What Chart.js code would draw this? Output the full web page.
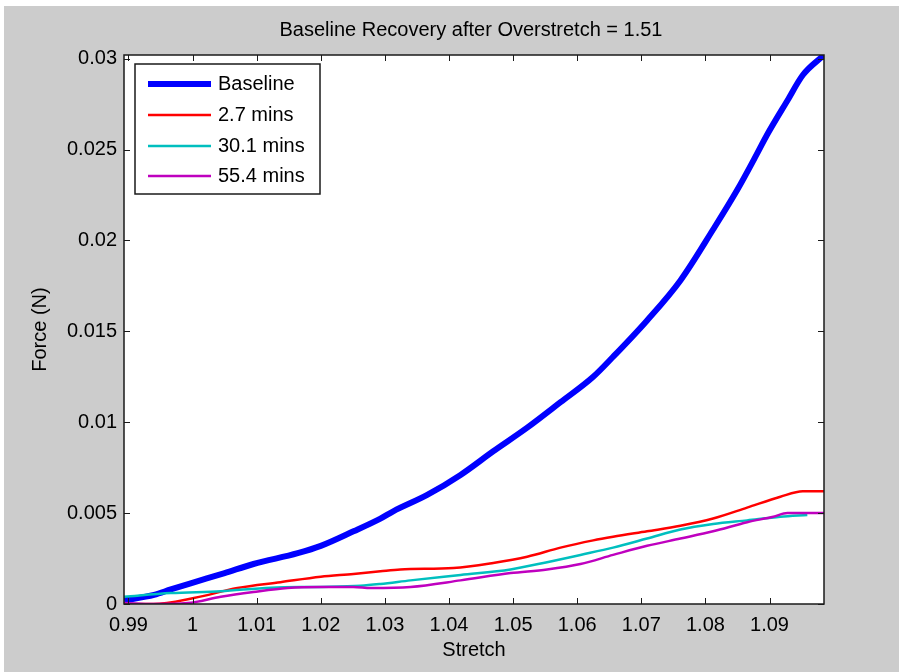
<!DOCTYPE html>
<html>
<head>
<meta charset="utf-8">
<script src="https://cdn.jsdelivr.net/npm/chart.js@4.4.1/dist/chart.umd.min.js"></script>
<style>
  html, body { margin: 0; padding: 0; background: #ffffff; }
  #wrap { position: relative; width: 899px; height: 672px; }
  canvas { display: block; }
</style>
</head>
<body>
<div id="wrap"><canvas id="c" width="899" height="672"></canvas></div>
<script>
// Stretch / force samples for each recovery curve
const baselineStretch = [0.9893, 0.9940, 0.9966, 0.9997, 1.0050, 1.0095, 1.0164, 1.0200, 1.0251, 1.0293, 1.0313, 1.0366, 1.0418, 1.0469, 1.0522, 1.0574, 1.0625, 1.0656, 1.0709, 1.0761, 1.0812, 1.0850, 1.0881, 1.0896, 1.0928, 1.0952, 1.0985];
const baselineForce   = [0.0002, 0.0005, 0.0008, 0.00114, 0.0017, 0.0022, 0.0028, 0.0032, 0.0040, 0.0047, 0.0051, 0.0060, 0.0071, 0.0084, 0.0097, 0.0111, 0.0125, 0.0136, 0.0156, 0.0178, 0.0206, 0.0228, 0.0248, 0.0258, 0.0277, 0.0291, 0.0302];

const min27Stretch = [0.9893, 0.9939, 1.0002, 1.0070, 1.0137, 1.0200, 1.0251, 1.0293, 1.0324, 1.0407, 1.0469, 1.0522, 1.0574, 1.0625, 1.0656, 1.0709, 1.0761, 1.0812, 1.0865, 1.0917, 1.0952, 1.0985];
const min27Force   = [0.0000, 0.0000, 0.00033, 0.00088, 0.0012, 0.0015, 0.00165, 0.0018, 0.0019, 0.00198, 0.00226, 0.0026, 0.0031, 0.0035, 0.0037, 0.0040, 0.0043, 0.0047, 0.0053, 0.0059, 0.0062, 0.0062];

const min301Stretch = [0.9893, 0.9966, 1.0044, 1.0122, 1.0200, 1.0262, 1.0293, 1.0340, 1.0418, 1.0496, 1.0553, 1.0605, 1.0656, 1.0709, 1.0761, 1.0812, 1.0865, 1.0917, 1.0959];
const min301Force   = [0.0004, 0.0006, 0.0007, 0.0009, 0.00094, 0.0010, 0.0011, 0.0013, 0.0016, 0.0019, 0.0023, 0.0027, 0.0031, 0.0036, 0.0041, 0.0044, 0.0046, 0.0048, 0.0049];

const min554Stretch = [0.9893, 0.9939, 0.9992, 1.0044, 1.0095, 1.0148, 1.0200, 1.0251, 1.0278, 1.0340, 1.0418, 1.0496, 1.0553, 1.0605, 1.0656, 1.0709, 1.0761, 1.0812, 1.0865, 1.0906, 1.0928, 1.0985];
const min554Force   = [0.00005, 0.0000, 0.00005, 0.0004, 0.00066, 0.00088, 0.00094, 0.00094, 0.00088, 0.00094, 0.0013, 0.0017, 0.0019, 0.0022, 0.0027, 0.0032, 0.0036, 0.0040, 0.0045, 0.0048, 0.0050, 0.0050];

const seriesNames = ['Baseline', '2.7 mins', '30.1 mins', '55.4 mins'];

const xTicks = [0.99, 1.00, 1.01, 1.02, 1.03, 1.04, 1.05, 1.06, 1.07, 1.08, 1.09];
const xTickLabels = ['0.99', '1', '1.01', '1.02', '1.03', '1.04', '1.05', '1.06', '1.07', '1.08', '1.09'];
const yTicks = [0, 0.005, 0.01, 0.015, 0.02, 0.025, 0.03];
const yTickLabels = ['0', '0.005', '0.01', '0.015', '0.02', '0.025', '0.03'];

const chartTitle = 'Baseline Recovery after Overstretch = 1.51';
const xTitle = 'Stretch';
const yTitle = 'Force (N)';

const FONT = "'Liberation Sans', Arial, sans-serif";
const FS = 20;

function pts(xs, ys) { return xs.map((x, i) => ({ x: x, y: ys[i] })); }

const colors = ['#0000ff', '#ff0000', '#00bfbf', '#bf00bf'];
const widths = [6, 2.5, 2.5, 2.5];

// Figure background, axes box, inward ticks, labels and legend
const figurePlugin = {
  id: 'figure',
  beforeDraw(chart) {
    const ctx = chart.ctx;
    const a = chart.chartArea;
    ctx.save();
    ctx.fillStyle = '#ffffff';
    ctx.fillRect(0, 0, chart.width, chart.height);
    ctx.fillStyle = '#cccccc';
    ctx.fillRect(4, 6, chart.width - 4, chart.height - 6);
    ctx.fillStyle = '#ffffff';
    ctx.fillRect(a.left, a.top, a.right - a.left, a.bottom - a.top);
    ctx.restore();
  },
  afterDraw(chart) {
    const ctx = chart.ctx;
    const a = chart.chartArea;
    const xs = chart.scales.x, ys = chart.scales.y;
    ctx.save();
    ctx.strokeStyle = '#1a1a1a';
    ctx.lineWidth = 1;
    ctx.beginPath();
    const T = 6;
    xTicks.forEach(v => {
      const px = Math.round(xs.getPixelForValue(v)) + 0.5;
      ctx.moveTo(px, a.bottom); ctx.lineTo(px, a.bottom - T);
      ctx.moveTo(px, a.top); ctx.lineTo(px, a.top + T);
    });
    yTicks.forEach(v => {
      const py = Math.round(ys.getPixelForValue(v)) + 0.5;
      ctx.moveTo(a.left, py); ctx.lineTo(a.left + T, py);
      ctx.moveTo(a.right, py); ctx.lineTo(a.right - T, py);
    });
    ctx.stroke();
    ctx.lineWidth = 1.5;
    ctx.strokeRect(a.left, a.top, a.right - a.left, a.bottom - a.top);

    // titles
    ctx.fillStyle = '#000000';
    ctx.font = FS + 'px ' + FONT;
    ctx.textAlign = 'center';
    ctx.textBaseline = 'middle';
    const cx = (a.left + a.right) / 2;
    ctx.fillText(chartTitle, cx - 3, 30);
    ctx.fillText(xTitle, cx, 650);
    ctx.save();
    ctx.translate(40, (a.top + a.bottom) / 2);
    ctx.rotate(-Math.PI / 2);
    ctx.fillText(yTitle, 0, 0);
    ctx.restore();

    // legend
    const lx = 135, ly = 64, lw = 185, lh = 130;
    ctx.fillStyle = '#ffffff';
    ctx.fillRect(lx, ly, lw, lh);
    ctx.strokeStyle = '#1a1a1a';
    ctx.lineWidth = 1.5;
    ctx.strokeRect(lx, ly, lw, lh);
    const rows = [84, 115, 146, 176];
    chart.data.datasets.forEach((ds, i) => {
      ctx.strokeStyle = ds.borderColor;
      ctx.lineWidth = ds.borderWidth;
      ctx.beginPath();
      ctx.moveTo(148, rows[i]);
      ctx.lineTo(211, rows[i]);
      ctx.stroke();
      ctx.fillStyle = '#000000';
      ctx.textAlign = 'left';
      ctx.fillText(ds.label, 218, rows[i]);
    });
    ctx.restore();
  }
};

new Chart(document.getElementById('c'), {
  type: 'line',
  data: {
    datasets: [
      { label: seriesNames[0], data: pts(baselineStretch, baselineForce) },
      { label: seriesNames[1], data: pts(min27Stretch, min27Force) },
      { label: seriesNames[2], data: pts(min301Stretch, min301Force) },
      { label: seriesNames[3], data: pts(min554Stretch, min554Force) }
    ].map((d, i) => Object.assign(d, {
      borderColor: colors[i],
      backgroundColor: colors[i],
      borderWidth: widths[i],
      pointRadius: 0,
      cubicInterpolationMode: 'monotone',
      fill: false,
      clip: 0,
      order: 3 - i
    }))
  },
  options: {
    responsive: false,
    animation: false,
    devicePixelRatio: 1,
    layout: { padding: { left: 0, top: 55, right: 75, bottom: 0 } },
    plugins: { legend: { display: false }, title: { display: false }, tooltip: { enabled: false } },
    scales: {
      x: {
        type: 'linear',
        min: 0.9893,
        max: 1.0985,
        grid: { display: false, drawTicks: false },
        border: { display: false },
        afterFit(s) { s.height = 68; },
        afterBuildTicks(s) { s.ticks = xTicks.map(v => ({ value: v })); },
        ticks: {
          autoSkip: false,
          maxRotation: 0,
          padding: 9,
          color: '#000000',
          font: { family: FONT, size: FS },
          callback: (v, i) => xTickLabels[i]
        }
      },
      y: {
        type: 'linear',
        min: 0,
        max: 0.0302,
        grid: { display: false, drawTicks: false },
        border: { display: false },
        afterFit(s) { s.width = 124; },
        afterBuildTicks(s) { s.ticks = yTicks.map(v => ({ value: v })); },
        ticks: {
          autoSkip: false,
          padding: 7,
          color: '#000000',
          font: { family: FONT, size: FS },
          callback: (v, i) => yTickLabels[i]
        }
      }
    }
  },
  plugins: [figurePlugin]
});
</script>
</body>
</html>
